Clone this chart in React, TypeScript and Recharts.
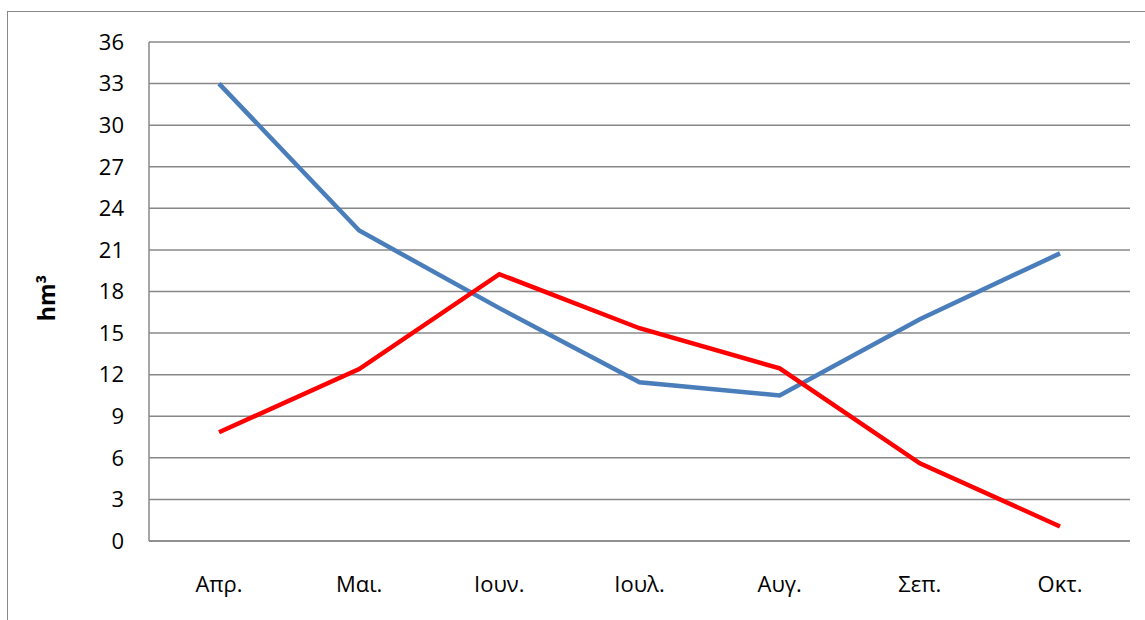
import { LineChart, Line, XAxis, YAxis, CartesianGrid } from 'recharts'

const months = ['Απρ.', 'Μαι.', 'Ιουν.', 'Ιουλ.', 'Αυγ.', 'Σεπ.', 'Οκτ.']
const blueSeries = [33, 22.4, 16.8, 11.45, 10.5, 16.0, 20.75]
const redSeries = [7.85, 12.4, 19.25, 15.35, 12.45, 5.6, 1.05]
const yTicks = [0, 3, 6, 9, 12, 15, 18, 21, 24, 27, 30, 33, 36]

const chartData = months.map((month, i) => ({
  month,
  blue: blueSeries[i],
  red: redSeries[i],
}))

const font = '"Open Sans", sans-serif'
const gray = '#888888'

function UnitLabel() {
  return (
    <text
      x={46}
      y={298}
      transform="rotate(-90 46 298)"
      textAnchor="middle"
      dominantBaseline="central"
      fontFamily={font}
      fontWeight="bold"
      fontSize={23}
      fill="#000"
    >
      hm³
    </text>
  )
}

export default function App() {
  return (
    <div
      style={{
        position: 'absolute',
        left: 0,
        top: 0,
        width: 1145,
        height: 620,
        overflow: 'hidden',
        background: '#fff',
      }}
    >
      <div
        style={{
          position: 'absolute',
          left: 7,
          top: 11,
          width: 1300,
          height: 800,
          borderLeft: `1.5px solid ${gray}`,
          borderTop: `1.5px solid ${gray}`,
        }}
      />
      <div style={{ position: 'absolute', left: 0, top: 0 }}>
        <LineChart
          width={1145}
          height={620}
          data={chartData}
          margin={{ top: 42, right: 15, bottom: 0, left: 0 }}
        >
          <CartesianGrid vertical={false} stroke={gray} strokeWidth={1.5} />
          <XAxis
            dataKey="month"
            height={79}
            padding={{ left: 70, right: 70 }}
            tickLine={false}
            tickSize={0}
            tickMargin={35}
            axisLine={{ stroke: gray, strokeWidth: 1.5 }}
            tick={{ fontFamily: font, fontSize: 22, fill: '#000' }}
            interval={0}
          />
          <YAxis
            width={149}
            domain={[0, 36]}
            ticks={yTicks}
            tickLine={false}
            tickSize={0}
            tickMargin={25}
            axisLine={{ stroke: gray, strokeWidth: 1.5 }}
            tick={{ fontFamily: font, fontSize: 22, fill: '#000' }}
            interval={0}
            label={<UnitLabel />}
          />
          <Line
            type="linear"
            dataKey="blue"
            stroke="#4a7ebb"
            strokeWidth={4.5}
            dot={false}
            isAnimationActive={false}
          />
          <Line
            type="linear"
            dataKey="red"
            stroke="#ff0000"
            strokeWidth={4.5}
            dot={false}
            isAnimationActive={false}
          />
        </LineChart>
      </div>
    </div>
  )
}
